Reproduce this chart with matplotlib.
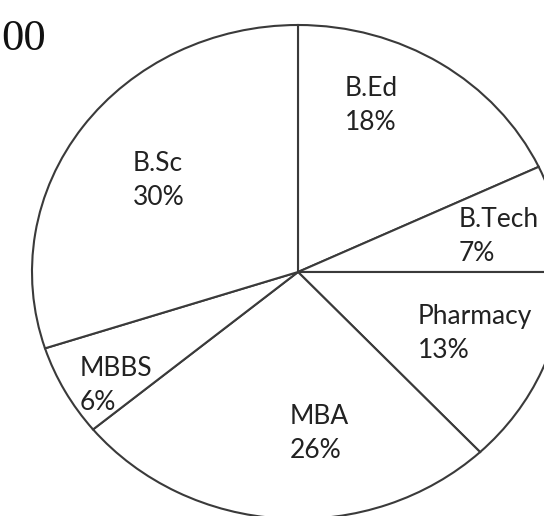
import matplotlib.pyplot as plt

courses = ["B.Ed", "B.Tech", "Pharmacy", "MBA", "MBBS", "B.Sc"]
shares = [18, 7, 13, 26, 6, 30]

# where each label block starts (left edge, vertical centre), in pie units
label_pos = [(0.177, 0.676), (0.602, 0.142), (0.451, -0.251),
             (-0.030, -0.652), (-0.820, -0.460), (-0.620, 0.372)]

fig = plt.figure(figsize=(5.44, 5.16), dpi=100)
ax = fig.add_axes([0, 0, 1, 1])

ax.pie(shares, startangle=90, counterclock=False, radius=1,
       colors=["white"] * len(shares),
       wedgeprops=dict(edgecolor="#3a3a3a", linewidth=1.5))

for name, val, (x, y) in zip(courses, shares, label_pos):
    ax.text(x, y, f"{name}\n{val}%", ha="left", va="center",
            fontsize=19, family="Lato", color="#222222", linespacing=1.45)

# the pie is slightly wider than tall in the picture, and cropped
ax.set_aspect("auto")
ax.set_xlim(-298 / 266, 246 / 266)
ax.set_ylim(-244 / 247, 272 / 247)
ax.axis("off")

fig.text(1 / 544, 1 - 39 / 516, "00", ha="left", va="center",
         fontsize=32, family="Liberation Serif", color="#111111")

fig.savefig("out.png", dpi=100)
